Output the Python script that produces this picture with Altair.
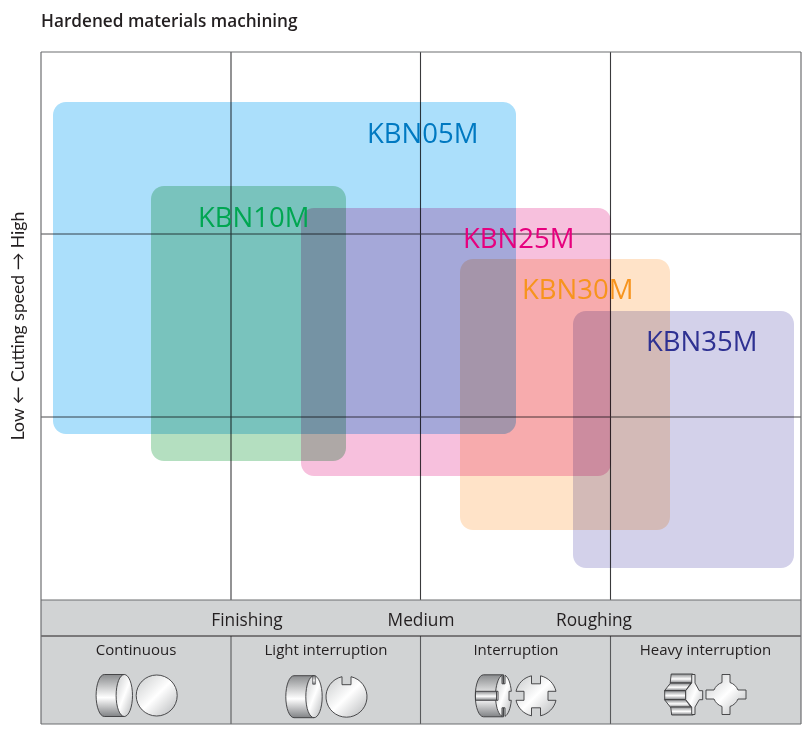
import altair as alt
import pandas as pd

FONT = "Open Sans"

# Coverage regions (positions on the reference's own pixel grid)
grades = ["KBN05M", "KBN10M", "KBN25M", "KBN30M", "KBN35M"]
region_left = [53, 151, 301, 460, 573]
region_right = [516, 346, 611, 670, 794]
region_top = [102, 186, 208, 259, 311]
region_bottom = [434, 461, 476, 530, 568]
region_fill = ["#ABDFFB", "#B4DFC0", "#F7C0DD", "#FFE3C8", "#D3D1EA"]
label_colors = ["#0079C1", "#00A651", "#E6007E", "#F7941D", "#2E3192"]
label_x = [367, 198, 463, 522, 646]
label_y = [143, 227, 248, 299, 351]

frame = dict(left=41, right=801, top=52, bottom=600, band=636, base=724)
v_lines = [231, 420.5, 610.5]
h_lines = [234, 417]

roles = ["Finishing", "Medium", "Roughing"]
role_x = [247, 421, 594]
modes = ["Continuous", "Light interruption", "Interruption", "Heavy interruption"]
mode_x = [136, 326, 516, 705.5]

DISC = "M-20.5,0A20.5,20.5 0 1 1 20.5,0A20.5,20.5 0 1 1 -20.5,0Z"
LIGHT_DISC = "M-4.5,-20A20.5,20.5 0 1 0 4.5,-20L4.5,-12L-4.5,-12Z"
CROSS_DISC = ("M-4.5,-20L-4.5,-12L4.5,-12L4.5,-20A20.5,20.5 0 0 1 20,-4.5L12,-4.5L12,4.5L20,4.5"
              "A20.5,20.5 0 0 1 4.5,20L4.5,12L-4.5,12L-4.5,20A20.5,20.5 0 0 1 -20,4.5L-12,4.5L-12,-4.5L-20,-4.5"
              "A20.5,20.5 0 0 1 -4.5,-20Z")
STAR_DISC = ("M-4,-20L4,-20L4,-12A13,13 0 0 1 12,-4.5L20,-4.5L20,4.5L12,4.5A13,13 0 0 1 4,12L4,20L-4,20L-4,12"
             "A13,13 0 0 1 -12,4.5L-20,4.5L-20,-4.5L-12,-4.5A13,13 0 0 1 -4,-12Z")
BODY = "M0,-21L-20,-21A8.2,21 0 0 0 -20,21L0,21Z"
FACE = "M-8.2,0A8.2,21 0 1 1 8.2,0A8.2,21 0 1 1 -8.2,0Z"
CROSS_FACE = ("M-1.5,-20.5L-1.5,-12L1.5,-12L1.5,-20.5A8,21 0 0 1 7.8,-4.5L5.5,-4.5L5.5,4.5L7.8,4.5"
              "A8,21 0 0 1 1.5,20.5L1.5,12L-1.5,12L-1.5,20.5A8,21 0 0 1 -7.8,4.5L-5.5,4.5L-5.5,-4.5L-7.8,-4.5"
              "A8,21 0 0 1 -1.5,-20.5Z")
NOTCH = "M-1.3,-4.2L1.3,-4.2L1.3,4.2L-1.3,4.2Z"
STRIP = "M-10.5,-4.5L10.5,-4.5L10.5,4.5L-10.5,4.5Z"
STAR_FACE = ("M-2.3,-20L1,-20L1,-11.5L5.3,-3.8L8.7,-3.8L8.7,5.2L5.3,5.2L1,12.5L1,20L-2.3,20L-2.3,12.5"
             "L-8.3,5.2L-8.3,-3.8L-2.3,-11.5Z")
H_TOP = "M-11.3,-4.5L10.3,-4.5L10.3,4.5L-12.3,4.5Z"
H_UP = "M-10.2,-3.8L10.2,-3.8L5,3.8L-16.2,3.8Z"
H_MID = "M-10.5,-4.5L10.5,-4.5L10.5,4.5L-10.5,4.5Z"
H_DOWN = "M-16.2,-3.8L5,-3.8L10.2,3.8L-10.2,3.8Z"
H_BOT = "M-12.3,-4L10.3,-4L10.3,4L-11.3,4Z"

side_x = [124.3, 314, 503.5, 486, 682.5, 680.7, 675.2, 680.7, 683]
side_y = [695.5, 696.7, 695.8, 695.8, 678.5, 686.9, 695.2, 703.5, 711]
side_path = [BODY, BODY, BODY, STRIP, H_TOP, H_UP, H_MID, H_DOWN, H_BOT]

face_x = [124.3, 156.7, 314, 346.5, 503.5, 536, 694, 726]
face_y = [695.5, 695.5, 696.7, 696.7, 695.8, 695.8, 694.5, 694.5]
face_path = [FACE, DISC, FACE, LIGHT_DISC, CROSS_FACE, CROSS_DISC, STAR_FACE, STAR_DISC]

notch_x = [314]
notch_y = [680]
notch_path = [NOTCH]

title_text = "Hardened materials machining"
y_title = "Low \u2190 Cutting speed \u2192 High"

X = alt.Scale(domain=[8, 804], nice=False, zero=False)
Y = alt.Scale(domain=[728, 8], nice=False, zero=False)


def xe(f):
    return alt.X(f"{f}:Q", scale=X, axis=None)


def ye(f):
    return alt.Y(f"{f}:Q", scale=Y, axis=None)


regions = pd.DataFrame(dict(g=grades, x=region_left, x2=region_right, y=region_top,
                            y2=region_bottom, fill=region_fill))
labels = pd.DataFrame(dict(g=grades, x=label_x, y=label_y, c=label_colors))

band = alt.Chart(pd.DataFrame([dict(x=frame["left"], x2=frame["right"], y=frame["bottom"], y2=frame["base"])])).mark_rect(
    fill="#D1D3D4").encode(x=xe("x"), x2="x2:Q", y=ye("y"), y2="y2:Q")

v_df = pd.DataFrame(dict(x=v_lines, y=frame["top"], y2=frame["bottom"]))
vlow_df = pd.DataFrame(dict(x=v_lines, y=frame["band"], y2=frame["base"]))
h_df = pd.DataFrame(dict(y=h_lines, x=frame["left"], x2=frame["right"]))
hb_df = pd.DataFrame(dict(y=[frame["band"]], x=frame["left"], x2=frame["right"]))
outer_h = pd.DataFrame(dict(y=[frame["top"], frame["bottom"], frame["base"]], x=frame["left"], x2=frame["right"]))
outer_v = pd.DataFrame(dict(x=[frame["left"], frame["right"]], y=frame["top"], y2=frame["base"]))

LINE = "#58595B"
vr = alt.Chart(v_df).mark_rule(color="#3A3A3C", strokeWidth=1.1).encode(x=xe("x"), y=ye("y"), y2="y2:Q")
vl = alt.Chart(vlow_df).mark_rule(color=LINE, strokeWidth=1.1).encode(x=xe("x"), y=ye("y"), y2="y2:Q")
hr = alt.Chart(h_df).mark_rule(color="#4A4A4C", strokeWidth=1).encode(y=ye("y"), x=xe("x"), x2="x2:Q")
hb = alt.Chart(hb_df).mark_rule(color="#231F20", strokeWidth=1).encode(y=ye("y"), x=xe("x"), x2="x2:Q")
oh = alt.Chart(outer_h).mark_rule(color="#6D6E71", strokeWidth=1.2).encode(y=ye("y"), x=xe("x"), x2="x2:Q")
ov = alt.Chart(outer_v).mark_rule(color="#6D6E71", strokeWidth=1.2).encode(x=xe("x"), y=ye("y"), y2="y2:Q")

rects = alt.Chart(regions).mark_rect(cornerRadius=13, blend="multiply").encode(
    x=xe("x"), x2="x2:Q", y=ye("y"), y2="y2:Q", fill=alt.Fill("fill:N", scale=None), order=alt.Order("x:Q"))

grade_text = alt.Chart(labels).mark_text(font=FONT, fontSize=27.5, align="left", baseline="alphabetic").encode(
    x=xe("x"), y=ye("y"), text="g:N", color=alt.Color("c:N", scale=None))


def stops(*pairs):
    return [dict(offset=o, color=c) for o, c in pairs]


BODY_GRAD = dict(gradient="linear", x1=0, y1=0, x2=0, y2=1,
                 stops=stops((0, "#8A8C8E"), (0.55, "#FFFFFF"), (1, "#808285")))
FACE_GRAD = dict(gradient="linear", x1=0, y1=0, x2=1, y2=1,
                 stops=stops((0, "#C9CBCC"), (0.5, "#FFFFFF"), (1, "#B5B7B9")))


def shapes(xs, ys, paths, grad, sw=0.9):
    df = pd.DataFrame(dict(x=xs, y=ys, p=paths))
    return alt.Chart(df).mark_point(filled=True, fill=grad, stroke="#3A3A3C", strokeWidth=sw, size=4, opacity=1).encode(
        x=xe("x"), y=ye("y"), shape=alt.Shape("p:N", scale=None))


sides = shapes(side_x, side_y, side_path, BODY_GRAD)
faces = shapes(face_x, face_y, face_path, FACE_GRAD)
notches = shapes(notch_x, notch_y, notch_path, BODY_GRAD, 0.7)


def text_layer(texts, xs, ys, size, color="#231F20", weight="normal", align="center", angle=None, font=FONT):
    df = pd.DataFrame(dict(t=texts, x=xs, y=ys))
    kw = dict(angle=angle) if angle is not None else {}
    return alt.Chart(df).mark_text(font=font, fontSize=size, fontWeight=weight, align=align,
                                   baseline="alphabetic", color=color, **kw).encode(
        x=xe("x"), y=ye("y"), text="t:N")


title = text_layer([title_text], [41], [27], 17.2, weight=600, align="left")
ylab = text_layer([y_title], [24], [326], 17.6, angle=270, font="Lato, DejaVu Sans")
role_text = text_layer(roles, role_x, [626] * 3, 17.3)
mode_text = text_layer(modes, mode_x, [655] * 4, 15)

chart = alt.layer(
    band, vr, vl, hr, hb, oh, ov, rects, grade_text, sides, faces, notches,
    title, ylab, role_text, mode_text,
).properties(
    width=796, height=720, padding=0, autosize=alt.AutoSizeParams(type="none")
).configure_view(stroke=None)

chart.save("out.html", embed_options={"renderer": "svg", "actions": False})
